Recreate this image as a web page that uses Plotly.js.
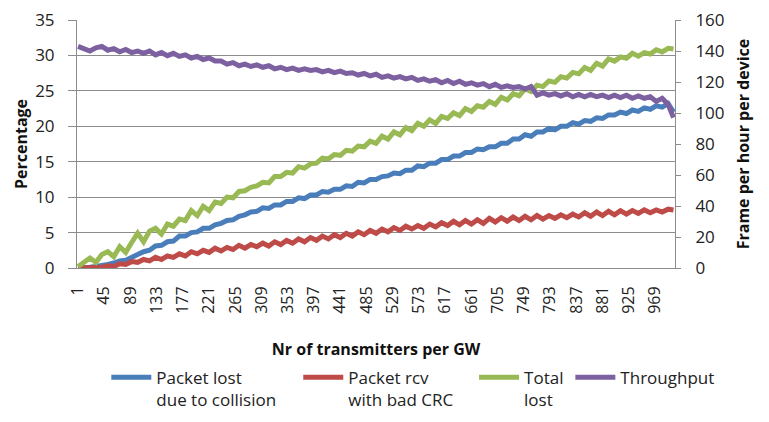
<!DOCTYPE html>
<html>
<head>
<meta charset="utf-8">
<script src="https://cdn.plot.ly/plotly-3.0.1.min.js"></script>
<style>
html,body{margin:0;padding:0;background:#fff;}
#chart{width:769px;height:422px;}
</style>
</head>
<body>
<div id="chart"></div>
<script>
// Number of transmitters per GW (sampled)
const transmitters = [
  1, 11, 21, 31, 41, 51, 61, 71, 81, 91,
  101, 111, 121, 131, 141, 151, 161, 171, 181, 191,
  201, 211, 221, 231, 241, 251, 261, 271, 281, 291,
  301, 311, 321, 331, 341, 351, 361, 371, 381, 391,
  401, 411, 421, 431, 441, 451, 461, 471, 481, 491,
  501, 511, 521, 531, 541, 551, 561, 571, 581, 591,
  601, 611, 621, 631, 641, 651, 661, 671, 681, 691,
  701, 711, 721, 731, 741, 751, 761, 771, 781, 791,
  801, 811, 821, 831, 841, 851, 861, 871, 881, 891,
  901, 911, 921, 931, 941, 951, 961, 971, 981, 991,
  1000
];
const tickLabels = [1, 45, 89, 133, 177, 221, 265, 309, 353, 397, 441, 485, 529, 573, 617, 661, 705, 749, 793, 837, 881, 925, 969];

// Percentage series
const lostCollision = [
  0, 0, 0.1, 0.2, 0.3, 0.5, 0.7, 1.0, 1.1, 1.6,
  1.9, 2.3, 2.5, 3.1, 3.2, 3.7, 3.8, 4.5, 4.5, 5.0,
  5.1, 5.6, 5.6, 6.1, 6.3, 6.7, 6.8, 7.3, 7.5, 7.9,
  8.0, 8.5, 8.4, 8.9, 8.9, 9.4, 9.4, 9.9, 9.8, 10.3,
  10.3, 10.8, 10.7, 11.1, 11.1, 11.6, 11.5, 12.1, 12.0, 12.5,
  12.5, 12.9, 13.0, 13.4, 13.3, 13.8, 13.8, 14.4, 14.3, 14.8,
  14.8, 15.3, 15.3, 15.8, 15.8, 16.3, 16.3, 16.8, 16.7, 17.1,
  17.1, 17.6, 17.6, 18.2, 18.2, 18.8, 18.6, 19.2, 19.2, 19.7,
  19.5, 20.0, 20.0, 20.5, 20.3, 20.8, 20.7, 21.2, 21.1, 21.6,
  21.6, 22.0, 21.8, 22.3, 22.1, 22.6, 22.4, 22.9, 22.7, 23.2,
  22.0
];
const badCRC = [
  0, 0, 0, 0, 0.1, 0.3, 0.2, 0.6, 0.5, 0.9,
  0.8, 1.2, 1.0, 1.5, 1.2, 1.7, 1.5, 2.0, 1.7, 2.3,
  2.0, 2.5, 2.2, 2.8, 2.4, 2.9, 2.6, 3.2, 2.8, 3.3,
  3.0, 3.5, 3.1, 3.7, 3.3, 3.9, 3.5, 4.1, 3.7, 4.3,
  3.9, 4.5, 4.1, 4.7, 4.3, 4.9, 4.5, 5.1, 4.7, 5.3,
  4.9, 5.5, 5.1, 5.7, 5.3, 5.9, 5.5, 6.0, 5.6, 6.2,
  5.8, 6.4, 6.0, 6.6, 6.1, 6.7, 6.2, 6.8, 6.3, 7.0,
  6.5, 7.1, 6.6, 7.2, 6.7, 7.3, 6.8, 7.4, 6.9, 7.4,
  7.0, 7.5, 7.1, 7.6, 7.2, 7.8, 7.3, 7.9, 7.4, 8.0,
  7.5, 8.1, 7.6, 8.1, 7.7, 8.2, 7.8, 8.2, 7.9, 8.3,
  8.2
];
const totalLost = [
  0.2, 0.9, 1.4, 0.8, 1.9, 2.3, 1.6, 3.0, 2.2, 3.6,
  4.9, 3.7, 5.2, 5.6, 4.8, 6.2, 5.9, 6.9, 6.7, 8.1,
  7.4, 8.7, 8.1, 9.3, 9.1, 10.0, 9.9, 10.8, 10.9, 11.4,
  11.6, 12.1, 12.0, 12.9, 12.9, 13.5, 13.4, 14.3, 14.1, 14.7,
  14.8, 15.5, 15.4, 16.0, 15.9, 16.6, 16.5, 17.2, 17.1, 17.9,
  17.6, 18.6, 18.2, 19.2, 18.8, 19.8, 19.4, 20.4, 20.0, 20.9,
  20.4, 21.4, 21.1, 21.9, 21.5, 22.5, 22.1, 22.9, 22.7, 23.5,
  23.1, 24.1, 23.7, 24.6, 24.3, 25.3, 24.9, 25.8, 25.6, 26.4,
  26.2, 27.0, 26.8, 27.6, 27.4, 28.3, 27.9, 28.9, 28.5, 29.5,
  29.2, 29.8, 29.6, 30.3, 29.9, 30.4, 30.2, 30.8, 30.5, 31.0,
  30.9
];
// Frames per hour per device
const throughput = [
  143, 141.5, 140, 142, 143, 140.5, 141.5, 139.5, 141, 139,
  140, 138.5, 140, 137.5, 139, 137, 138.5, 136.5, 137.5, 135.5,
  136.5, 134.5, 135.5, 133.5, 133.5, 131.5, 132.5, 130.5, 131.5, 130,
  131, 129.5, 130.5, 128.5, 129.5, 128, 129, 127.5, 128.5, 127.5,
  128, 126.5, 127.5, 126, 127, 125.5, 126, 124.5, 125.5, 124,
  125, 123, 124, 122.5, 123.5, 122, 123, 121, 122, 120.5,
  121.5, 119.5, 121, 119, 120.5, 118.5, 119.5, 118, 119, 117,
  118.5, 116.5, 117.5, 116.5, 117, 115.5, 117, 111.5, 113, 111.5,
  112.5, 111, 112.5, 110.5, 112, 110.5, 112, 110.5, 111.5, 110,
  111.5, 110, 111.5, 109.5, 111, 109.5, 110.5, 107.5, 109.5, 105.5,
  97
];

const seriesNames = ['Packet lost<br>due to collision', 'Packet rcv<br>with bad CRC', 'Total<br>lost', 'Throughput'];
const colors = ['#4A7EBB', '#BE4B48', '#98B954', '#7D60A0'];

const FONT = '"Open Sans", "Noto Sans", sans-serif';
const GRID = '#8C8C8C';
const LW = 5;

const traces = [
  {x: transmitters, y: lostCollision, name: seriesNames[0], type: 'scatter', mode: 'lines', legend: 'legend', line: {color: colors[0], width: LW}},
  {x: transmitters, y: badCRC, name: seriesNames[1], type: 'scatter', mode: 'lines', legend: 'legend2', line: {color: colors[1], width: LW}},
  {x: transmitters, y: totalLost, name: seriesNames[2], type: 'scatter', mode: 'lines', legend: 'legend3', line: {color: colors[2], width: LW}},
  {x: transmitters, y: throughput, name: seriesNames[3], type: 'scatter', mode: 'lines', legend: 'legend4', yaxis: 'y2', line: {color: colors[3], width: LW}}
];

function leg(x) {
  return {
    orientation: 'h', x: x, xanchor: 'left', y: -0.37, yanchor: 'top',
    font: {family: FONT, size: 17, color: '#222'},
    itemwidth: 40, valign: 'top', bgcolor: 'rgba(0,0,0,0)'
  };
}

const layout = {
  width: 769, height: 422,
  margin: {l: 77, r: 94, t: 20, b: 154, autoexpand: false},
  paper_bgcolor: '#fff', plot_bgcolor: '#fff',
  font: {family: FONT, size: 16, color: '#222'},
  showlegend: true,
  xaxis: {
    range: [-0.7, 1002.5],
    tickmode: 'array', tickvals: tickLabels, ticktext: tickLabels.map(String),
    tickangle: -90, ticks: '', ticklabelstandoff: 11,
    tickfont: {family: FONT, size: 16, color: '#222'},
    showgrid: false, zeroline: false,
    showline: true, linecolor: GRID, linewidth: 1,
    title: {text: '<b>Nr of transmitters per GW</b>', font: {family: FONT, size: 16, color: '#111'}, standoff: 30}
  },
  yaxis: {
    range: [0, 35], dtick: 5, tick0: 0,
    ticks: 'outside', ticklen: 8, tickcolor: GRID, ticklabelstandoff: 10,
    tickfont: {family: FONT, size: 17, color: '#222'},
    showgrid: true, gridcolor: GRID, gridwidth: 1,
    zeroline: false, showline: true, linecolor: GRID, linewidth: 1,
    title: {text: '<b>Percentage</b>', font: {family: FONT, size: 16, color: '#111'}, standoff: 3}
  },
  yaxis2: {
    range: [0, 160], dtick: 20, tick0: 0,
    overlaying: 'y', side: 'right',
    ticks: 'outside', ticklen: 5, tickcolor: GRID, ticklabelstandoff: 11,
    tickfont: {family: FONT, size: 17, color: '#222'},
    showgrid: false, zeroline: false, showline: true, linecolor: GRID, linewidth: 1,
    title: {text: '<b>Frame per hour per device</b>', font: {family: FONT, size: 16, color: '#111'}, standoff: 14}
  },
  legend: leg(0.049),
  legend2: leg(0.370),
  legend3: leg(0.664),
  legend4: leg(0.825)
};

Plotly.newPlot('chart', traces, layout, {displayModeBar: false, staticPlot: true});
</script>
</body>
</html>
